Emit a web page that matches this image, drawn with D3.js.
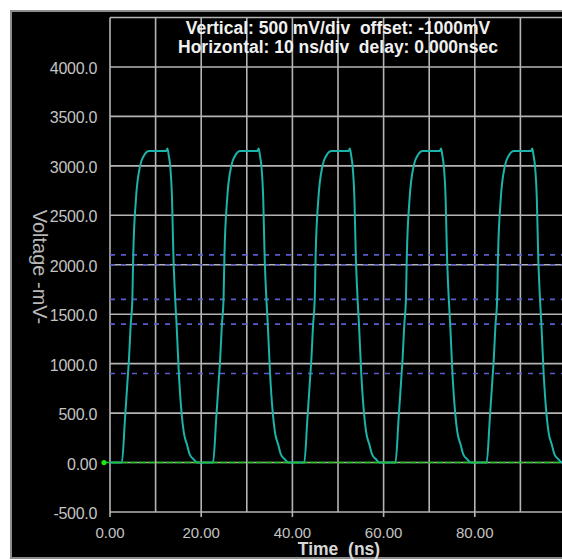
<!DOCTYPE html>
<html>
<head>
<meta charset="utf-8">
<script src="https://cdn.jsdelivr.net/npm/d3@7"></script>
<style>
  body { margin: 0; background: #ffffff; }
  svg { display: block; font-family: "Liberation Sans", Arial, sans-serif; }
</style>
</head>
<body>
<svg id="scope" width="562" height="560"></svg>
<script>
// Tick values and labels
const xTicks = [0, 20, 40, 60, 80];
const xTickLabels = ["0.00", "20.00", "40.00", "60.00", "80.00"];
const yTicks = [-500, 0, 500, 1000, 1500, 2000, 2500, 3000, 3500, 4000];
const yTickLabels = ["-500.0", "0.00", "500.0", "1000.0", "1500.0", "2000.0", "2500.0", "3000.0", "3500.0", "4000.0"];

// Threshold levels drawn as blue dashed lines (mV)
const thresholdLevels = [2100, 2000, 1650, 1400, 900];

// One pulse of the trace (ns from pulse start, mV)
const pulseTime = [0, 2.6, 3.3, 3.95, 4.1, 4.55, 4.9, 5.1, 5.7, 6.6, 7.4, 8.6, 10.5, 12.3, 12.6, 12.9, 13.2, 13.6, 13.9, 14.3, 14.6, 15.1, 15.7, 16.2, 16.9, 17.5, 18.4, 19.1, 20];
const pulseMv   = [0, 0,   450, 900,  1000, 1400, 1650, 2100, 2670, 3000, 3100, 3150, 3150, 3150, 3175, 3100, 3000, 2670, 2100, 1650, 1400, 900, 500, 300, 180, 80, 30, 0, 0];
// Start time of each pulse (ns)
const pulseStarts = [0, 20, 40, 60, 80];

const svg = d3.select("#scope");

// Scope window background and frame
svg.append("rect")
  .attr("x", 11).attr("y", 11)
  .attr("width", 560).attr("height", 547)
  .attr("fill", "#000")
  .attr("stroke", "#8c8c8c")
  .attr("stroke-width", 2);

// Scales
const x = d3.scaleLinear().domain([0, 100]).range([110, 566]);
const y = d3.scaleLinear().domain([-500, 4500]).range([512, 17.5]);

// clip for the plot area (right side is cut by the window)
svg.append("clipPath").attr("id", "plotClip")
  .append("rect")
  .attr("x", 100).attr("y", 10)
  .attr("width", 462).attr("height", 504);

const plot = svg.append("g").attr("clip-path", "url(#plotClip)");

// Grid
const gridColor = "#b4b4b4";
plot.selectAll(".vgrid")
  .data(d3.range(0, 101, 10))
  .join("line")
  .attr("x1", d => x(d)).attr("x2", d => x(d))
  .attr("y1", y(4500)).attr("y2", y(-500))
  .attr("stroke", gridColor).attr("stroke-width", 1.6);

plot.selectAll(".hgrid")
  .data(d3.range(-500, 4501, 500))
  .join("line")
  .attr("x1", x(0)).attr("x2", 562)
  .attr("y1", d => y(d)).attr("y2", d => y(d))
  .attr("stroke", gridColor).attr("stroke-width", 1.6);

// Small ticks below the time axis
svg.selectAll(".xtick")
  .data(xTicks)
  .join("line")
  .attr("x1", d => x(d)).attr("x2", d => x(d))
  .attr("y1", y(-500)).attr("y2", y(-500) + 5)
  .attr("stroke", gridColor).attr("stroke-width", 1.6);

// Threshold lines
plot.selectAll(".thresh")
  .data(thresholdLevels)
  .join("line")
  .attr("x1", x(0)).attr("x2", 562)
  .attr("y1", d => y(d)).attr("y2", d => y(d))
  .attr("stroke", "#5b5bd0")
  .attr("stroke-width", 1.6)
  .attr("stroke-dasharray", "5,6");

// Ground reference line and marker
svg.append("line")
  .attr("x1", 103).attr("x2", 562)
  .attr("y1", y(0)).attr("y2", y(0))
  .attr("stroke", "#22c41e")
  .attr("stroke-width", 1.6)
  .attr("stroke-dasharray", "7,2");
svg.append("circle")
  .attr("cx", 104).attr("cy", y(0)).attr("r", 2.6)
  .attr("fill", "#1ee61a");

// Build trace points from the pulse shape
const trace = [];
pulseStarts.forEach(s => {
  pulseTime.forEach((t, i) => trace.push([s + t, pulseMv[i]]));
});

const line = d3.line()
  .x(d => x(d[0]))
  .y(d => y(d[1]))
  .curve(d3.curveMonotoneX);

plot.append("path")
  .datum(trace)
  .attr("d", line)
  .attr("fill", "none")
  .attr("stroke", "#1bb3aa")
  .attr("stroke-width", 2);

// Tick labels
const labelColor = "#c4c4c4";
svg.selectAll(".ylab")
  .data(yTicks)
  .join("text")
  .attr("x", 97)
  .attr("y", d => y(d) + 7)
  .attr("text-anchor", "end")
  .attr("fill", labelColor)
  .attr("font-size", 16)
  .attr("letter-spacing", -0.3)
  .text((d, i) => yTickLabels[i]);

svg.selectAll(".xlab")
  .data(xTicks)
  .join("text")
  .attr("x", d => x(d))
  .attr("y", 538)
  .attr("text-anchor", "middle")
  .attr("fill", labelColor)
  .attr("font-size", 15)
  .text((d, i) => xTickLabels[i]);

// Axis titles
svg.append("text")
  .attr("x", 339).attr("y", 555)
  .attr("text-anchor", "middle")
  .attr("fill", "#d8d8d8")
  .attr("font-size", 17.5)
  .attr("font-weight", "bold")
  .attr("xml:space", "preserve")
  .text("Time  (ns)");

svg.append("text")
  .attr("transform", "translate(33,267) rotate(90)")
  .attr("text-anchor", "middle")
  .attr("fill", "#b8b8b8")
  .attr("font-size", 20)
  .text("Voltage -mV-");

// Header text
const header = ["Vertical: 500 mV/div  offset: -1000mV", "Horizontal: 10 ns/div  delay: 0.000nsec"];
svg.selectAll(".head")
  .data(header)
  .join("text")
  .attr("x", 338)
  .attr("y", (d, i) => 34 + i * 19)
  .attr("text-anchor", "middle")
  .attr("fill", "#f0f0f0")
  .attr("font-size", 17.5)
  .attr("font-weight", "bold")
  .style("white-space", "pre")
  .text(d => d);
</script>
</body>
</html>
